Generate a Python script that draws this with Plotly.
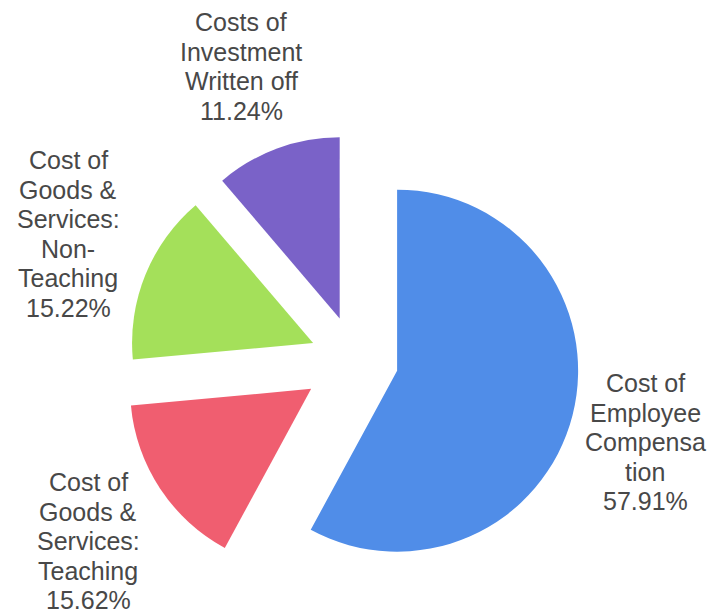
import plotly.graph_objects as go

# ---- data ----
categories = [
    "Cost of Employee Compensation",
    "Cost of Goods & Services: Teaching",
    "Cost of Goods & Services: Non-Teaching",
    "Costs of Investment Written off",
]
values = [57.91, 15.62, 15.22, 11.24]
# label text as it is wrapped in the reference
label_lines = [
    ["Cost of", "Employee", "Compensa", "tion"],
    ["Cost of", "Goods &", "Services:", "Teaching"],
    ["Cost of", "Goods &", "Services:", "Non-", "Teaching"],
    ["Costs of", "Investment", "Written off"],
]

# ---- styles ----
colors = ["#508DE8", "#F05E70", "#A4E05A", "#7A62C8"]
pulls = [0.24, 0.29, 0.25, 0.245]
W, H = 715, 614
text_color = "#484848"
font_family = "Liberation Sans, Arial, sans-serif"
font_size = 25
line_gap = 29.6
# label block anchors (pixel centre x, first-line centre y)
label_anchor = [(645, 383), (88, 482), (68, 160), (241, 22)]

fig = go.Figure(
    go.Pie(
        labels=categories,
        values=values,
        sort=False,
        direction="clockwise",
        rotation=0,
        pull=pulls,
        marker=dict(colors=colors, line=dict(width=0)),
        textinfo="none",
        hoverinfo="label+percent",
        domain=dict(x=[0.1699, 0.8231], y=[0.0334, 0.794]),
        showlegend=False,
    )
)

annotations = []
for lines, v, (ax, ay) in zip(label_lines, values, label_anchor):
    all_lines = lines + [f"{v:.2f}%"]
    for i, t in enumerate(all_lines):
        py = ay + i * line_gap
        annotations.append(
            dict(
                x=ax / W,
                y=1 - py / H,
                xref="paper",
                yref="paper",
                text=t,
                showarrow=False,
                xanchor="center",
                yanchor="middle",
                font=dict(family=font_family, size=font_size, color=text_color),
            )
        )

fig.update_layout(
    width=W,
    height=H,
    margin=dict(l=0, r=0, t=0, b=0),
    paper_bgcolor="white",
    plot_bgcolor="white",
    annotations=annotations,
)

fig.write_html("out.html")
